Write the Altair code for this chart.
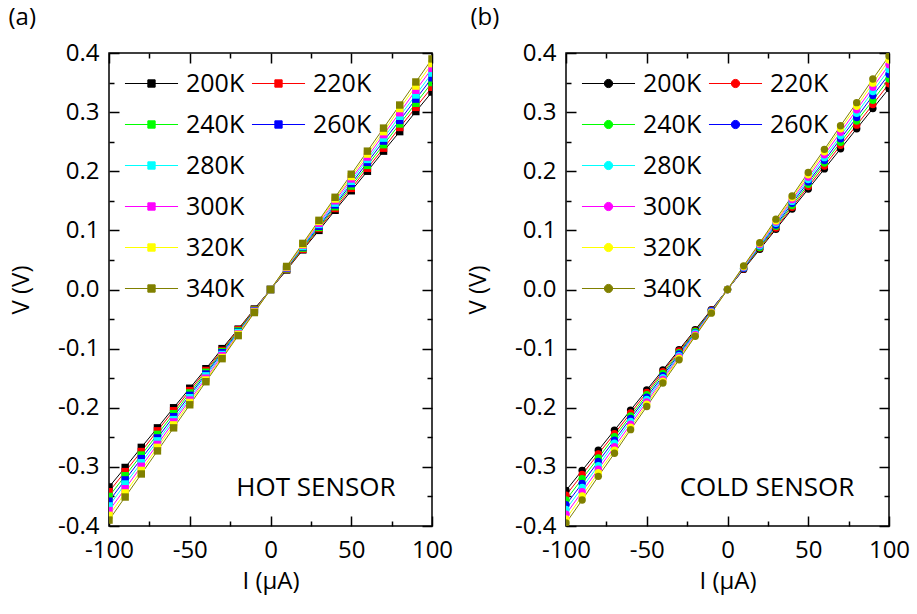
import altair as alt
import pandas as pd

# ---------------- data ----------------
CURRENT_UA = [-100, -90, -80, -70, -60, -50, -40, -30, -20, -10, 0,
              10, 20, 30, 40, 50, 60, 70, 80, 90, 100]
TEMPERATURES = ["200K", "220K", "240K", "260K", "280K", "300K", "320K", "340K"]
SERIES_COLORS = ["#000000", "#FF0000", "#00FF00", "#0000FF",
                 "#00FFFF", "#FF00FF", "#FFFF00", "#808000"]
LEGEND_COL1 = ["200K", "240K", "280K", "300K", "320K", "340K"]
LEGEND_COL2 = ["220K", "260K"]

HOT_200K = [-0.334, -0.301, -0.267, -0.234, -0.200, -0.167, -0.134, -0.100, -0.067, -0.033, 0.0,
            0.033, 0.067, 0.100, 0.134, 0.167, 0.200, 0.234, 0.267, 0.301, 0.334]
HOT_220K = [-0.342, -0.308, -0.274, -0.239, -0.205, -0.171, -0.137, -0.103, -0.068, -0.034, 0.0,
            0.034, 0.068, 0.103, 0.137, 0.171, 0.205, 0.239, 0.274, 0.308, 0.342]
HOT_240K = [-0.350, -0.315, -0.280, -0.245, -0.210, -0.175, -0.140, -0.105, -0.070, -0.035, 0.0,
            0.035, 0.070, 0.105, 0.140, 0.175, 0.210, 0.245, 0.280, 0.315, 0.350]
HOT_260K = [-0.358, -0.322, -0.286, -0.251, -0.215, -0.179, -0.143, -0.107, -0.072, -0.036, 0.0,
            0.036, 0.072, 0.107, 0.143, 0.179, 0.215, 0.251, 0.286, 0.322, 0.358]
HOT_280K = [-0.366, -0.329, -0.293, -0.256, -0.220, -0.183, -0.146, -0.110, -0.073, -0.037, 0.0,
            0.037, 0.073, 0.110, 0.146, 0.183, 0.220, 0.256, 0.293, 0.329, 0.366]
HOT_300K = [-0.374, -0.337, -0.299, -0.262, -0.224, -0.187, -0.150, -0.112, -0.075, -0.037, 0.0,
            0.037, 0.075, 0.112, 0.150, 0.187, 0.224, 0.262, 0.299, 0.337, 0.374]
HOT_320K = [-0.382, -0.344, -0.306, -0.267, -0.229, -0.191, -0.153, -0.115, -0.076, -0.038, 0.0,
            0.038, 0.076, 0.115, 0.153, 0.191, 0.229, 0.267, 0.306, 0.344, 0.382]
HOT_340K = [-0.390, -0.351, -0.312, -0.273, -0.234, -0.195, -0.156, -0.117, -0.078, -0.039, 0.0,
            0.039, 0.078, 0.117, 0.156, 0.195, 0.234, 0.273, 0.312, 0.351, 0.390]

COLD_200K = [-0.340, -0.306, -0.272, -0.238, -0.204, -0.170, -0.136, -0.102, -0.068, -0.034, 0.0,
             0.034, 0.068, 0.102, 0.136, 0.170, 0.204, 0.238, 0.272, 0.306, 0.340]
COLD_220K = [-0.348, -0.313, -0.278, -0.244, -0.209, -0.174, -0.139, -0.104, -0.070, -0.035, 0.0,
             0.035, 0.070, 0.104, 0.139, 0.174, 0.209, 0.244, 0.278, 0.313, 0.348]
COLD_240K = [-0.356, -0.320, -0.285, -0.249, -0.214, -0.178, -0.142, -0.107, -0.071, -0.036, 0.0,
             0.036, 0.071, 0.107, 0.142, 0.178, 0.214, 0.249, 0.285, 0.320, 0.356]
COLD_260K = [-0.364, -0.328, -0.291, -0.255, -0.218, -0.182, -0.146, -0.109, -0.073, -0.036, 0.0,
             0.036, 0.073, 0.109, 0.146, 0.182, 0.218, 0.255, 0.291, 0.328, 0.364]
COLD_280K = [-0.372, -0.335, -0.298, -0.260, -0.223, -0.186, -0.149, -0.112, -0.074, -0.037, 0.0,
             0.037, 0.074, 0.112, 0.149, 0.186, 0.223, 0.260, 0.298, 0.335, 0.372]
COLD_300K = [-0.380, -0.342, -0.304, -0.266, -0.228, -0.190, -0.152, -0.114, -0.076, -0.038, 0.0,
             0.038, 0.076, 0.114, 0.152, 0.190, 0.228, 0.266, 0.304, 0.342, 0.380]
COLD_320K = [-0.388, -0.349, -0.310, -0.272, -0.233, -0.194, -0.155, -0.116, -0.078, -0.039, 0.0,
             0.039, 0.078, 0.116, 0.155, 0.194, 0.233, 0.272, 0.310, 0.349, 0.388]
COLD_340K = [-0.395, -0.356, -0.316, -0.277, -0.237, -0.198, -0.158, -0.119, -0.079, -0.040, 0.0,
             0.040, 0.079, 0.119, 0.158, 0.198, 0.237, 0.277, 0.316, 0.356, 0.395]

X_MAJOR = [-100, -50, 0, 50, 100]
X_MINOR = [-75, -25, 25, 75]
Y_MAJOR = [-0.4, -0.3, -0.2, -0.1, 0.0, 0.1, 0.2, 0.3, 0.4]
Y_MINOR = [-0.35, -0.25, -0.15, -0.05, 0.05, 0.15, 0.25, 0.35]

X_TITLE = "I (\u03bcA)"
Y_TITLE = "V (V)"
PANEL_LETTERS = ["(a)", "(b)"]
PANEL_NOTES = ["HOT SENSOR", "COLD SENSOR"]

FONT = "Open Sans"
W, H = 323, 473


def build_frame(series_list):
    rows = []
    for temp, values in zip(TEMPERATURES, series_list):
        for cur, volt in zip(CURRENT_UA, values):
            rows.append({"I": cur, "V": volt, "T": temp})
    return pd.DataFrame(rows)


hot_df = build_frame([HOT_200K, HOT_220K, HOT_240K, HOT_260K,
                      HOT_280K, HOT_300K, HOT_320K, HOT_340K])
cold_df = build_frame([COLD_200K, COLD_220K, COLD_240K, COLD_260K,
                       COLD_280K, COLD_300K, COLD_320K, COLD_340K])

SQUARE_PATH = "M-4,0H4M-0.55,-0.55H0.55V0.55H-0.55Z"
CIRCLE_PATH = "M-4,0H4M0.62,0A0.62,0.62,0,1,1,-0.62,0A0.62,0.62,0,1,1,0.62,0Z"

X_LABEL_EXPR = "replace(format(datum.value, 'd'), '\u2212', '-')"
Y_LABEL_EXPR = "replace(format(datum.value, '.1f'), '\u2212', '-')"

x_scale = alt.Scale(domain=[-100, 100], nice=False, zero=False)
y_scale = alt.Scale(domain=[-0.4, 0.4], nice=False, zero=False)


def tick_axis(orient, values, size, **kw):
    return alt.Axis(orient=orient, values=values, offset=-size, tickSize=size,
                    tickWidth=1.5, tickColor="black", domain=False, grid=False,
                    gridOpacity=0, labelFlush=False, **kw)


def make_legend(path, lx, ly):
    return alt.Legend(
        title=None, orient="none", legendX=lx, legendY=ly, padding=0,
        symbolType=path, symbolSize=176, symbolStrokeWidth=1, symbolOpacity=1,
        labelFont=FONT, labelFontSize=25, labelColor="black", labelOffset=22,
        rowPadding=15,
    )


def legend_layer(df, shape, path, entries, lx, ly, x_axis, y_axis):
    colors = [SERIES_COLORS[TEMPERATURES.index(t)] for t in entries]
    leg = make_legend(path, lx, ly)
    return alt.Chart(df).transform_filter(
        alt.FieldOneOfPredicate(field="T", oneOf=entries)
    ).mark_point(shape=shape, filled=True, opacity=0).encode(
        x=alt.X("I:Q", scale=x_scale, axis=x_axis),
        y=alt.Y("V:Q", scale=y_scale, axis=y_axis),
        fill=alt.Fill("T:N", scale=alt.Scale(domain=entries, range=colors), legend=leg),
        stroke=alt.Stroke("T:N", scale=alt.Scale(domain=entries, range=colors), legend=leg),
    )


def panel(df, shape, path, letter, note, note_x, title_dx):
    color_scale_all = alt.Scale(domain=TEMPERATURES, range=SERIES_COLORS)

    lines = alt.Chart(df).mark_line(strokeWidth=1, clip=True).encode(
        x=alt.X("I:Q", scale=x_scale,
                axis=tick_axis("bottom", X_MAJOR, 10, labelExpr=X_LABEL_EXPR,
                               labelPadding=12, title=X_TITLE, titlePadding=7)),
        y=alt.Y("V:Q", scale=y_scale,
                axis=tick_axis("left", Y_MAJOR, 10, labelExpr=Y_LABEL_EXPR,
                               labelPadding=10, title=Y_TITLE, titlePadding=24)),
        color=alt.Color("T:N", scale=color_scale_all, legend=None),
        order=alt.Order("I:Q"),
        detail="T:N",
    )

    points = alt.Chart(df).mark_point(shape=shape, filled=True, size=55,
                                      opacity=1, clip=True).encode(
        x=alt.X("I:Q", scale=x_scale,
                axis=tick_axis("bottom", X_MINOR, 5, labels=False, title=None)),
        y=alt.Y("V:Q", scale=y_scale,
                axis=tick_axis("left", Y_MINOR, 5, labels=False, title=None)),
        color=alt.Color("T:N", scale=color_scale_all, legend=None),
    )

    leg1 = legend_layer(df, shape, path, LEGEND_COL1, 30, 18,
                        tick_axis("top", X_MAJOR, 10, labels=False, title=None),
                        tick_axis("right", Y_MAJOR, 10, labels=False, title=None))
    leg2 = legend_layer(df, shape, path, LEGEND_COL2, 157, 18,
                        tick_axis("top", X_MINOR, 5, labels=False, title=None),
                        tick_axis("right", Y_MINOR, 5, labels=False, title=None))

    label = alt.Chart(pd.DataFrame({"note": [note]})).mark_text(
        font=FONT, fontSize=26, align="center", baseline="middle", color="black"
    ).encode(
        x=alt.value(note_x), y=alt.value(435), text="note:N",
    )

    return alt.layer(lines, points, leg1, leg2, label).resolve_scale(
        color="independent", fill="independent", stroke="independent"
    ).resolve_legend(
        color="independent", fill="independent", stroke="independent"
    ).resolve_axis(
        x="independent", y="independent"
    ).properties(
        width=W, height=H,
        title=alt.TitleParams(letter, anchor="start", frame="bounds", font=FONT,
                              fontSize=24, fontWeight="normal", color="black",
                              offset=11, dx=title_dx),
    )


left = panel(hot_df, "square", SQUARE_PATH, PANEL_LETTERS[0], PANEL_NOTES[0], 207, -1)
right = panel(cold_df, "circle", CIRCLE_PATH, PANEL_LETTERS[1], PANEL_NOTES[1], 201, 4)

chart = alt.hconcat(left, right, spacing=11).resolve_scale(
    color="independent", fill="independent", stroke="independent",
    x="independent", y="independent"
).resolve_legend(
    color="independent", fill="independent", stroke="independent"
).properties(
    padding={"left": 7, "top": 5, "right": 0, "bottom": 5}
).configure_view(
    stroke="black", strokeWidth=1.5
).configure_axis(
    labelFont=FONT, titleFont=FONT, labelFontSize=24, titleFontSize=24,
    labelColor="black", titleColor="black", titleFontWeight="normal",
    grid=False, gridOpacity=0,
)

chart.save("out.html", embed_options={"renderer": "svg", "actions": False})
